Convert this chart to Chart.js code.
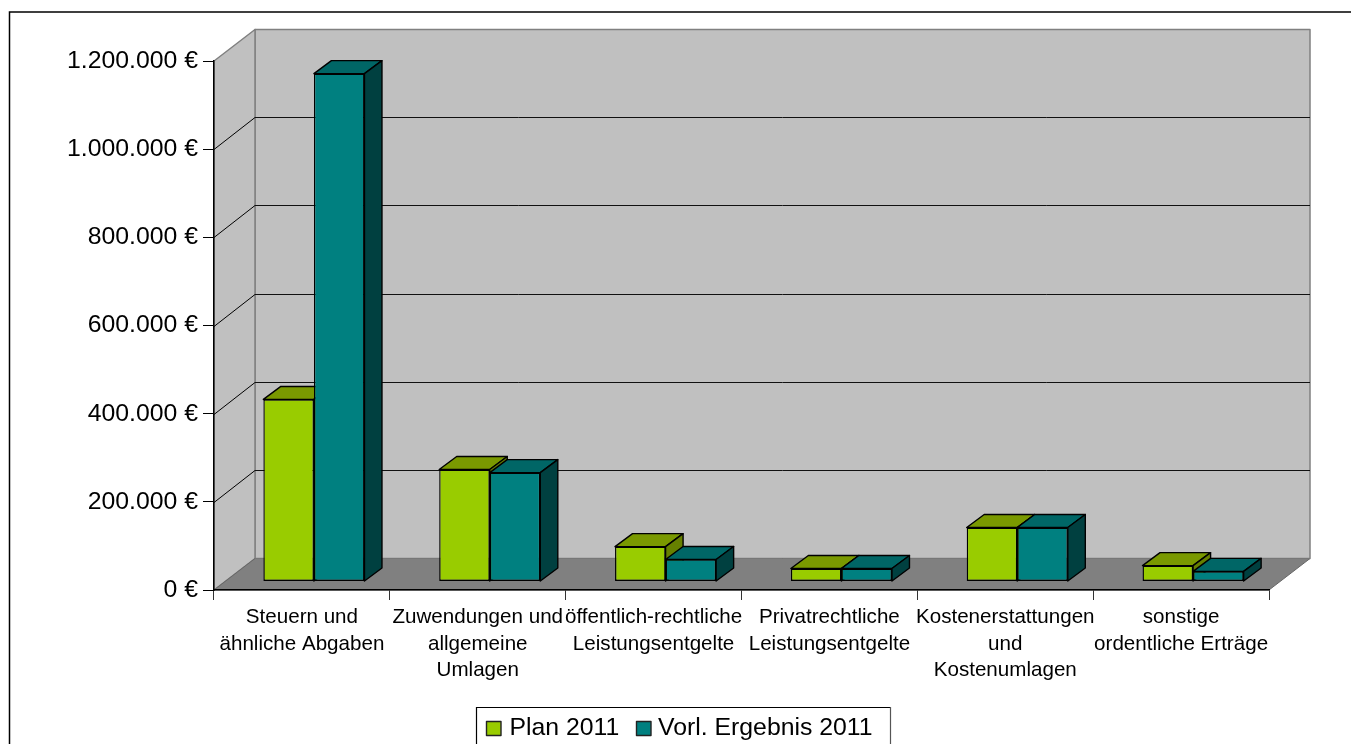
<!DOCTYPE html>
<html lang="de">
<head>
<meta charset="utf-8">
<title>Erträge Plan und vorläufiges Ergebnis 2011</title>
<script src="https://cdn.jsdelivr.net/npm/chart.js@4"></script>
<style>
html,body{margin:0;padding:0;background:#fff;overflow:hidden}
canvas{display:block}
</style>
</head>
<body>
<canvas id="c" width="1351" height="744"></canvas>
<script>
const categories = [
  ["Steuern und", "ähnliche Abgaben"],
  ["Zuwendungen und", "allgemeine", "Umlagen"],
  ["öffentlich-rechtliche", "Leistungsentgelte"],
  ["Privatrechtliche", "Leistungsentgelte"],
  ["Kostenerstattungen", "und", "Kostenumlagen"],
  ["sonstige", "ordentliche Erträge"]
];
const plan2011 = [413000, 254000, 79000, 29500, 122500, 36000];
const ergebnis2011 = [1152000, 247000, 50000, 29500, 122500, 23000];
const seriesNames = ["Plan 2011", "Vorl. Ergebnis 2011"];
const yTicksMax = 1200000;
const yStep = 200000;

const FONT = '"Liberation Sans", Arial, sans-serif';
const WALL = {dx: 41, dy: -31.5, gridDy: -32};
const BAR_OFF = {dx: 12, dy: -8.5};
const BAR_DEPTH = {dx: 17.5, dy: -13};
const SHADES = [
  {front: '#99CC00', top: '#7A9900', side: '#668000'},
  {front: '#008080', top: '#006666', side: '#004040'}
];

function poly(ctx, pts, fill, stroke, lw) {
  ctx.beginPath();
  pts.forEach((p, i) => i ? ctx.lineTo(p[0], p[1]) : ctx.moveTo(p[0], p[1]));
  ctx.closePath();
  if (fill) { ctx.fillStyle = fill; ctx.fill(); }
  if (stroke) { ctx.strokeStyle = stroke; ctx.lineWidth = lw || 1; ctx.lineJoin = 'round'; ctx.stroke(); }
}
function line(ctx, x1, y1, x2, y2, color, lw) {
  ctx.beginPath(); ctx.moveTo(x1, y1); ctx.lineTo(x2, y2);
  ctx.strokeStyle = color; ctx.lineWidth = lw || 1; ctx.stroke();
}

const box3d = {
  id: 'box3d',
  beforeDraw(chart) {
    const {ctx, chartArea: a, scales: {y}} = chart;
    const l = a.left, r = a.right, t = y.getPixelForValue(yTicksMax), b = y.getPixelForValue(0);
    const dx = WALL.dx, dy = WALL.dy;
    ctx.save();
    // Hintergrundwand, Seitenwand, Boden
    poly(ctx, [[l+dx,t+dy],[r+dx,t+dy],[r+dx,b+dy],[l+dx,b+dy]], '#C0C0C0', '#808080', 1.5);
    poly(ctx, [[l,t],[l+dx,t+dy],[l+dx,b+dy],[l,b]], '#C0C0C0', '#808080', 1.5);
    poly(ctx, [[l,b],[l+dx,b+dy],[r+dx,b+dy],[r,b]], '#808080', '#666666', 1);
    // Gitternetz
    for (let v = yStep; v < yTicksMax; v += yStep) {
      const p = Math.round(y.getPixelForValue(v)) + 0.5;
      line(ctx, l, p, l+dx, p+WALL.gridDy, '#000', 1);
      line(ctx, l+dx, p+WALL.gridDy, r+dx, p+WALL.gridDy, '#111', 1);
    }
    line(ctx, l+dx, b+dy, r+dx, b+dy, '#777', 1);
    ctx.restore();
  },
  beforeDatasetsDraw(chart) {
    const ctx = chart.ctx;
    ctx.save();
    ctx.translate(BAR_OFF.dx, BAR_OFF.dy);
    const dx = BAR_DEPTH.dx, dy = BAR_DEPTH.dy;
    chart.data.datasets.forEach((ds, di) => {
      chart.getDatasetMeta(di).data.forEach(el => {
        const hw = el.width / 2, x0 = el.x - hw, x1 = el.x + hw, yt = el.y, yb = el.base;
        poly(ctx, [[x0,yt],[x0+dx,yt+dy],[x1+dx,yt+dy],[x1,yt]], SHADES[di].top, '#000', 1.4);
        poly(ctx, [[x1,yt],[x1+dx,yt+dy],[x1+dx,yb+dy],[x1,yb]], SHADES[di].side, '#000', 1.4);
      });
    });
  },
  afterDatasetsDraw(chart) {
    chart.ctx.restore();
  },
  afterDraw(chart) {
    const ctx = chart.ctx;
    ctx.save();
    // Außenrahmen
    ctx.strokeStyle = '#000'; ctx.lineWidth = 1.5;
    ctx.beginPath();
    ctx.moveTo(9.5, 744); ctx.lineTo(9.5, 12); ctx.lineTo(1351, 12);
    ctx.stroke();
    // Legende
    poly(ctx, [[476.5,707.5],[891,707.5],[891,750],[476.5,750]], '#fff', null);
    line(ctx, 476, 707.5, 891, 707.5, '#000', 1.2);
    line(ctx, 476.5, 707, 476.5, 744, '#000', 1.2);
    line(ctx, 890.5, 707, 890.5, 744, '#555', 1.2);
    const items = [
      {box: 486, text: 509.5},
      {box: 636, text: 658}
    ];
    ctx.font = '24.8px ' + FONT;
    ctx.textBaseline = 'middle';
    ctx.textAlign = 'left';
    chart.data.datasets.forEach((ds, i) => {
      poly(ctx, [[items[i].box+.5,721.5],[items[i].box+15,721.5],[items[i].box+15,735.5],[items[i].box+.5,735.5]], ds.backgroundColor, '#222', 1.4);
      ctx.fillStyle = '#000';
      ctx.fillText(ds.label, items[i].text, 728);
    });
    ctx.restore();
  }
};

new Chart(document.getElementById('c'), {
  type: 'bar',
  data: {
    labels: categories,
    datasets: [
      {label: seriesNames[0], data: plan2011, backgroundColor: SHADES[0].front, borderColor: '#000', borderWidth: 1.4, borderSkipped: false, clip: false},
      {label: seriesNames[1], data: ergebnis2011, backgroundColor: SHADES[1].front, borderColor: '#000', borderWidth: 1.4, borderSkipped: false, clip: false}
    ]
  },
  options: {
    responsive: false,
    animation: false,
    devicePixelRatio: 1,
    layout: {padding: {left: 0, top: 61, right: 82, bottom: 0}},
    plugins: {legend: {display: false}, title: {display: false}, tooltip: {enabled: false}},
    datasets: {bar: {categoryPercentage: 0.575, barPercentage: 1}},
    scales: {
      x: {
        afterFit(s) { s.height = 154; },
        grid: {offset: true, drawOnChartArea: false, drawTicks: true, tickLength: 10, color: '#333'},
        border: {display: true, color: '#000', width: 1.5},
        ticks: {
          autoSkip: false, maxRotation: 0, minRotation: 0, padding: 4, color: '#000',
          font: {family: FONT, size: 20.6, lineHeight: 1.29}
        }
      },
      y: {
        min: 0, max: yTicksMax,
        afterFit(s) { s.width = 214; },
        grid: {drawOnChartArea: false, drawTicks: true, tickLength: 11, color: '#000'},
        border: {display: true, color: '#000', width: 1.5},
        ticks: {
          stepSize: yStep, padding: 5, color: '#000',
          font: {family: FONT, size: 24.8},
          callback: v => v.toLocaleString('de-DE') + ' €'
        }
      }
    }
  },
  plugins: [box3d]
});
</script>
</body>
</html>
